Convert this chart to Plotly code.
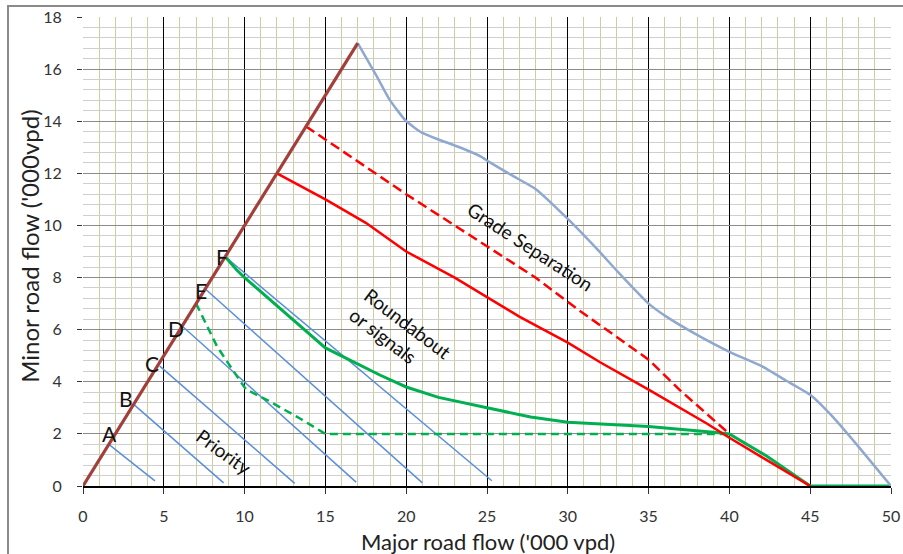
import plotly.graph_objects as go

# ---- data (thousand vehicles per day) ----
diag_x = [0, 17]
diag_y = [0, 17]

grade_x = [17, 18.2, 19, 20, 21, 22, 23.3, 24.6, 25.1, 26.6, 28, 30, 31.8, 33.2, 35, 36.1, 38, 40, 42, 43.5, 45, 46.4, 48, 50]
grade_y = [17, 15.7, 14.8, 14, 13.55, 13.3, 13.0, 12.65, 12.45, 11.9, 11.4, 10.25, 9.1, 8.15, 7.0, 6.5, 5.8, 5.15, 4.6, 4.05, 3.5, 2.65, 1.5, 0]

red_x = [12, 15, 17.5, 20, 23, 25, 27, 30, 32, 35, 38.6, 40, 45]
red_y = [12, 11, 10.1, 9, 8, 7.25, 6.5, 5.5, 4.75, 3.7, 2.4, 1.85, 0]

red_dash_x = [13.8, 20, 25, 28, 30.8, 35, 36.9, 40]
red_dash_y = [13.8, 11.2, 9.2, 8.0, 6.7, 4.85, 3.7, 2.0]

green_x = [8.8, 9.5, 10, 12.6, 15, 16.3, 18.4, 20, 22, 25, 27.7, 30, 32, 35, 39, 40, 42.3, 45, 50]
green_y = [8.8, 8.3, 8.0, 6.6, 5.3, 4.9, 4.25, 3.8, 3.4, 3.0, 2.65, 2.45, 2.38, 2.28, 2.06, 2.0, 1.15, 0, 0]

green_dash_x = [7, 8.3, 9.7, 10.1, 11.4, 13.4, 15, 40]
green_dash_y = [7, 5.35, 4.05, 3.7, 3.3, 2.6, 2.0, 2.0]

pri_labels = ["A", "B", "C", "D", "E", "F"]
pri_start_x = [1.6, 3.1, 4.75, 6.2, 7.5, 8.8]
pri_start_y = [1.6, 3.15, 4.6, 6.1, 7.6, 8.8]
pri_end_x = [4.45, 8.7, 13.1, 16.9, 21.0, 25.3]
pri_end_y = [0.2, 0.12, 0.1, 0.15, 0.12, 0.2]

label_x = [1.67, 2.66, 4.27, 5.76, 7.3, 8.6]
label_y = [2.03, 3.36, 4.7, 6.05, 7.5, 8.8]

x_ticks = [0, 5, 10, 15, 20, 25, 30, 35, 40, 45, 50]
y_ticks = [0, 2, 4, 6, 8, 10, 12, 14, 16, 18]

FONT = "Lato, 'Open Sans', sans-serif"

fig = go.Figure()

# priority lines A-F
px, py = [], []
for sx, sy, ex, ey in zip(pri_start_x, pri_start_y, pri_end_x, pri_end_y):
    px += [sx, ex, None]
    py += [sy, ey, None]
fig.add_trace(go.Scatter(x=px, y=py, mode="lines", line=dict(color="#5B8FD9", width=1.5), hoverinfo="skip"))

fig.add_trace(go.Scatter(x=green_dash_x, y=green_dash_y, mode="lines",
                         line=dict(color="#00B050", width=2.5, dash="8px,5px")))
fig.add_trace(go.Scatter(x=green_x, y=green_y, mode="lines",
                         line=dict(color="#00B050", width=3)))
fig.add_trace(go.Scatter(x=red_dash_x, y=red_dash_y, mode="lines",
                         line=dict(color="#FF0000", width=2.5, dash="10px,5px")))
fig.add_trace(go.Scatter(x=red_x, y=red_y, mode="lines",
                         line=dict(color="#FF0000", width=2.5)))
fig.add_trace(go.Scatter(x=grade_x, y=grade_y, mode="lines",
                         line=dict(color="#8FA8D0", width=2.5, shape="spline", smoothing=0.5)))
fig.add_trace(go.Scatter(x=diag_x, y=diag_y, mode="lines",
                         line=dict(color="#A23F3B", width=3.2)))

annotations = []
for t, x, y in zip(pri_labels, label_x, label_y):
    annotations.append(dict(x=x, y=y, text=t, showarrow=False, xref="x", yref="y",
                            font=dict(family=FONT, size=21, color="#111")))
annotations += [
    dict(x=8.7, y=1.32, text="Priority", showarrow=False, textangle=36,
         font=dict(family=FONT, size=19, color="#111")),
    dict(x=19.6, y=5.86, text="Roundabout<br>or signals", showarrow=False, textangle=37,
         align="left", font=dict(family=FONT, size=19, color="#111")),
    dict(x=27.7, y=9.2, text="Grade Separation", showarrow=False, textangle=33,
         font=dict(family=FONT, size=19, color="#111")),
    # axis titles
    dict(x=0.501, y=-0.1173, xref="paper", yref="paper", text="Major road flow ('000 vpd)",
         showarrow=False, xanchor="center", yanchor="middle",
         font=dict(family=FONT, size=22, color="#222")),
    dict(x=-0.0656, y=0.512, xref="paper", yref="paper", text="Minor road flow ('000vpd)",
         showarrow=False, xanchor="center", yanchor="middle", textangle=-90,
         font=dict(family=FONT, size=24, color="#222")),
]

fig.update_layout(
    width=903, height=554,
    margin=dict(l=83, r=12, t=17, b=68, autoexpand=False),
    paper_bgcolor="white", plot_bgcolor="white",
    showlegend=False,
    font=dict(family=FONT, color="#333"),
    annotations=annotations,
    shapes=[dict(type="rect", xref="paper", yref="paper",
                 x0=-0.0928, x1=1.05, y0=-0.2, y1=1.0235,
                 line=dict(color="#8a8a8a", width=2), layer="below")],
    xaxis=dict(
        range=[0, 50], tickvals=x_ticks, ticktext=[str(v) for v in x_ticks],
        showgrid=True, gridcolor="#000000", gridwidth=1,
        minor=dict(dtick=1, showgrid=True, gridcolor="#D4CB9E", gridwidth=1),
        showline=True, linecolor="#000", linewidth=1.5,
        ticks="outside", ticklen=6, tickcolor="#333",
        ticklabelstandoff=9, zeroline=False, automargin=False,
        ticklabeloverflow="allow",
        tickfont=dict(size=16, color="#333"),
    ),
    yaxis=dict(
        range=[0, 18], tickvals=y_ticks, ticktext=[str(v) for v in y_ticks],
        showgrid=True, gridcolor="#8C8C8C", gridwidth=1,
        minor=dict(dtick=0.4, showgrid=True, gridcolor="#CFCFCF", gridwidth=1),
        showline=False, ticks="outside", ticklen=5, tickcolor="#333",
        ticklabelstandoff=12, zeroline=False, automargin=False,
        ticklabeloverflow="allow",
        tickfont=dict(size=16, color="#333"),
    ),
)

# remove the browser's default 8px page margin so the figure fills the window exactly
fig.write_html("out.html", config={"displayModeBar": False},
               post_script="document.body.style.margin='0';")
